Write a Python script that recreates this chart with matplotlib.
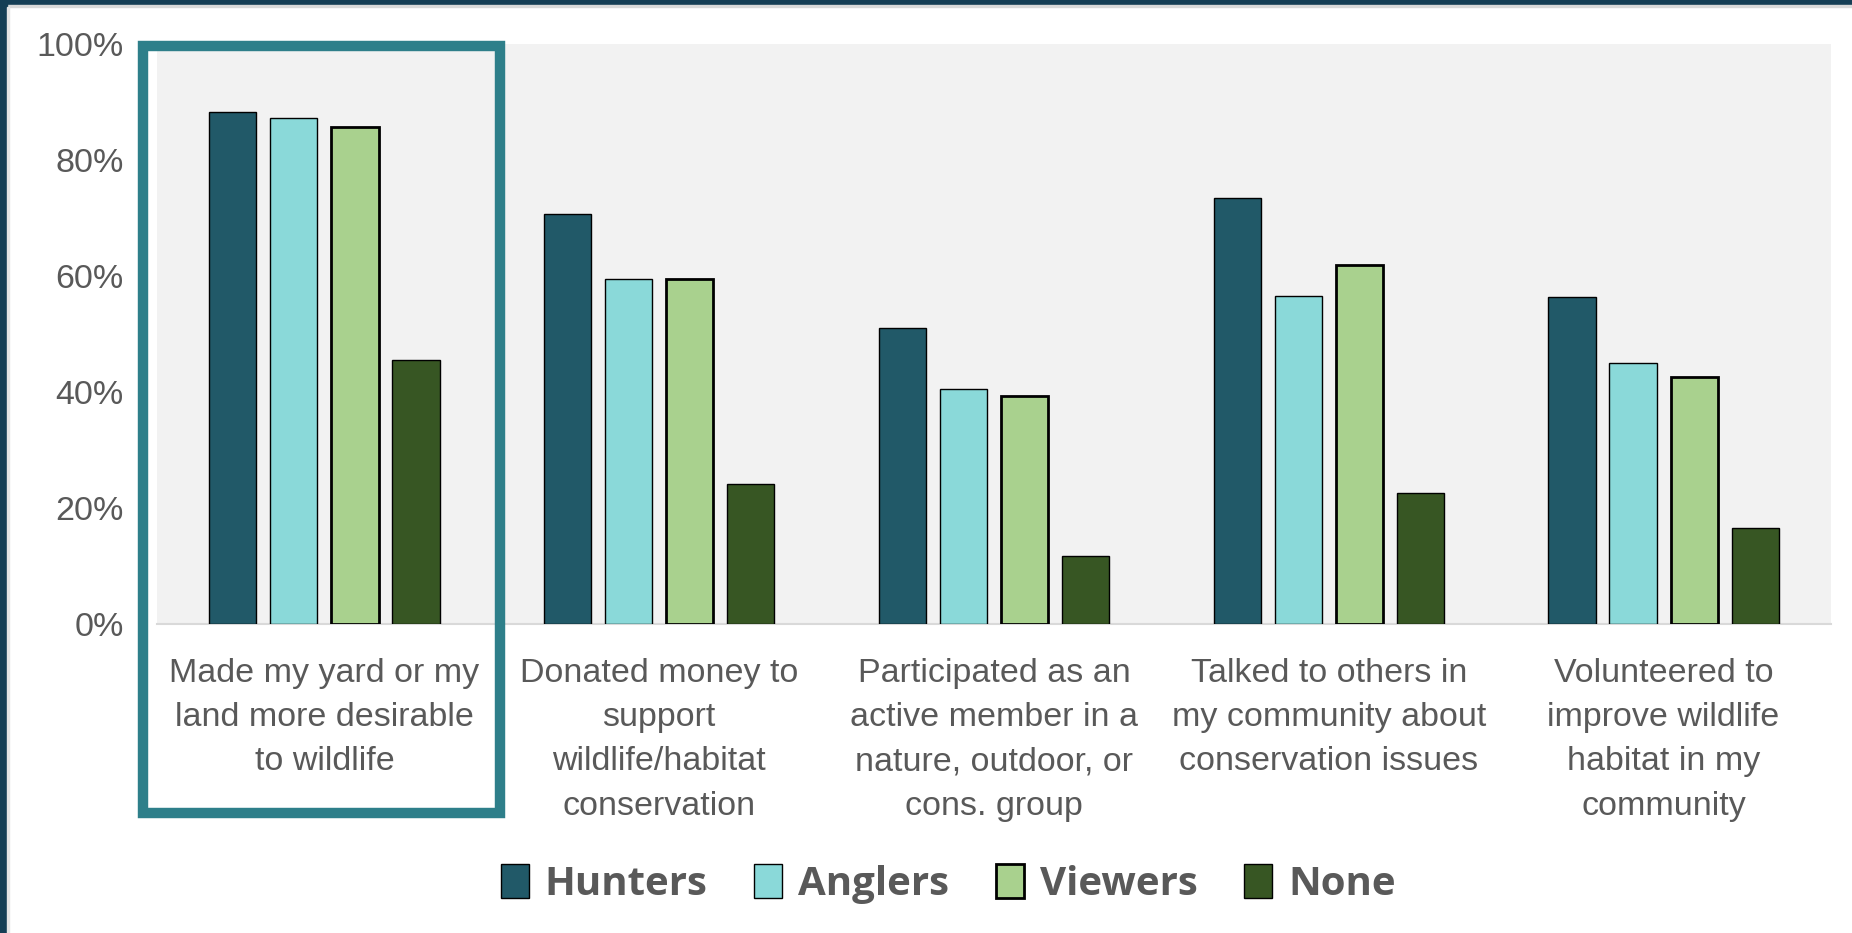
import numpy as np
import matplotlib.pyplot as plt
from matplotlib.patches import Rectangle, Patch

categories = [
    "Made my yard or my\nland more desirable\nto wildlife",
    "Donated money to\nsupport\nwildlife/habitat\nconservation",
    "Participated as an\nactive member in a\nnature, outdoor, or\ncons. group",
    "Talked to others in\nmy community about\nconservation issues",
    "Volunteered to\nimprove wildlife\nhabitat in my\ncommunity",
]
hunters = [88.2, 70.7, 51.1, 73.5, 56.4]
anglers = [87.2, 59.5, 40.5, 56.6, 45.0]
viewers = [85.7, 59.5, 39.3, 61.9, 42.6]
none_ = [45.6, 24.2, 11.8, 22.6, 16.5]

series = [("Hunters", hunters, "#215968", 1.0),
          ("Anglers", anglers, "#8AD9D9", 1.0),
          ("Viewers", viewers, "#A9D18E", 2.0),
          ("None", none_, "#375623", 1.0)]

W, H = 1852, 933
fig = plt.figure(figsize=(W / 100, H / 100), dpi=100)
fig.patch.set_facecolor("white")

# frame strips along top and left edge
fig.add_artist(Rectangle((0, 1 - 5 / H), 1, 5 / H, transform=fig.transFigure,
                         color="#153E55", zorder=5))
fig.add_artist(Rectangle((0, 1 - 7 / H), 1, 2 / H, transform=fig.transFigure,
                         color="#D9D9D9", zorder=5))
fig.add_artist(Rectangle((0, 0), 7 / W, 1, transform=fig.transFigure,
                         color="#153E55", zorder=5))
fig.add_artist(Rectangle((7 / W, 0), 2 / W, 1 - 7 / H, transform=fig.transFigure,
                         color="#E4E4E4", zorder=5))

ax = fig.add_axes([157 / W, 309 / H, (1831 - 157) / W, (624 - 44) / H])
ax.set_facecolor("#F2F2F2")

x = np.arange(len(categories))
step = 0.1825
width = 0.141
for i, (name, vals, col, lw) in enumerate(series):
    ax.bar(x + (i - 1.5) * step, vals, width, color=col, edgecolor="black",
           linewidth=lw, label=name, zorder=3)

ax.set_xlim(-0.5, len(categories) - 0.5)
ax.set_ylim(0, 100)
ax.set_yticks(range(0, 101, 20))
ax.set_yticklabels([f"{v}%" for v in range(0, 101, 20)])
ax.set_xticks(x)
ax.set_xticklabels(categories, linespacing=1.55)
ax.tick_params(length=0, labelsize=24.5, labelcolor="#595959")
ax.tick_params(axis="x", pad=24.5)
ax.tick_params(axis="y", pad=24)
for lab in ax.get_xticklabels() + ax.get_yticklabels():
    lab.set_fontfamily("Liberation Sans")
for s in ["top", "right", "left"]:
    ax.spines[s].set_visible(False)
ax.spines["bottom"].set_color("#D9D9D9")
ax.spines["bottom"].set_linewidth(1.5)

# highlight box around the first category
fig.add_artist(Rectangle((143 / W, 1 - 813 / H), (500 - 143) / W, (813 - 46) / H,
                         transform=fig.transFigure, fill=False,
                         edgecolor="#2E7F8A", linewidth=7.5, zorder=6))

handles = [Patch(facecolor=c, edgecolor="black", linewidth=lw) for _, _, c, lw in series]
leg = fig.legend(handles, [s[0] for s in series], loc="center",
                 bbox_to_anchor=(0.512, 1 - 884 / H), ncol=4, frameon=False,
                 prop={"family": "Open Sans", "weight": "bold", "size": 29},
                 handlelength=0.7, handleheight=0.9, handletextpad=0.4,
                 columnspacing=1.15)
for t in leg.get_texts():
    t.set_color("#595959")

fig.savefig("out.png", dpi=100)
